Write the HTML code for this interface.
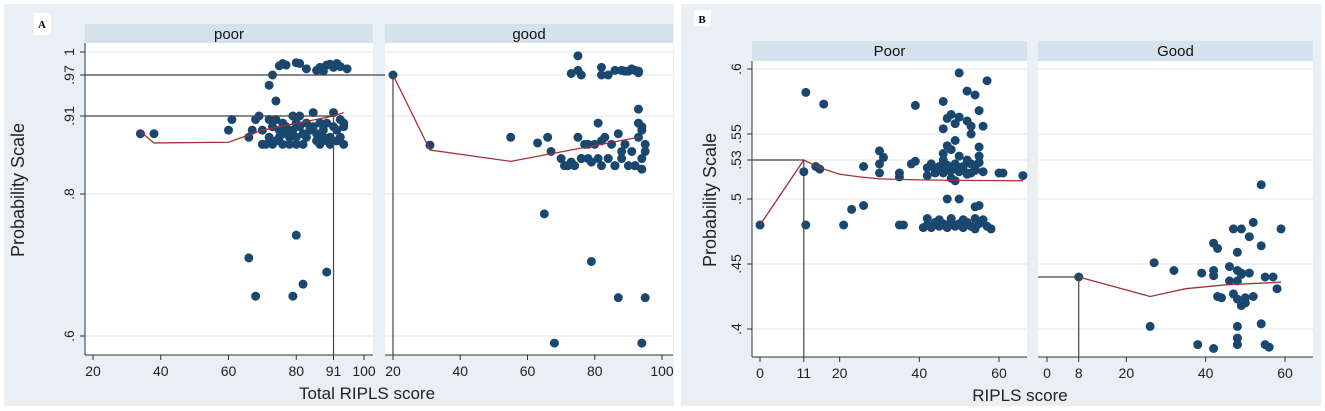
<!DOCTYPE html>
<html><head><meta charset="utf-8">
<style>
html,body{margin:0;padding:0;background:#fff;width:1325px;height:411px;overflow:hidden;font-family:"Liberation Sans",sans-serif;}
svg{display:block}
</style></head>
<body>
<svg id="chart" width="1325" height="411" xmlns="http://www.w3.org/2000/svg">
<rect x="4" y="4" width="670" height="402" fill="#e9eff3"/>
<rect x="681" y="4" width="640" height="402" fill="#e9eff3"/>
<rect x="34" y="13" width="17" height="22" fill="#fff"/>
<text x="42" y="28" font-family="Liberation Serif" font-weight="bold" font-size="11" text-anchor="middle">A</text>
<rect x="694" y="10" width="17" height="16" fill="#fff"/>
<text x="702" y="23" font-family="Liberation Serif" font-weight="bold" font-size="11" text-anchor="middle">B</text>
<text transform="translate(24,190) rotate(-90)" font-size="18" text-anchor="middle" fill="#222">Probability Scale</text>
<text x="367" y="399" font-size="17" text-anchor="middle" fill="#222">Total RIPLS score</text>
<text transform="translate(716,200) rotate(-90)" font-size="18" text-anchor="middle" fill="#222">Probability Scale</text>
<text x="1020" y="401" font-size="17" text-anchor="middle" fill="#222">RIPLS score</text>
</svg>
<script>
// ---- Panel A data ----
const aYTicks = [1, .97, .91, .8, .6];
const aYTickLabels = ["1", ".97", ".91", ".8", ".6"];
const aXTicks = [20, 40, 60, 80, 91, 100];
const aPoorX = [34,38,60,61,66,67,68,69,70,70,71,72,72,73,73,74,74,75,75,76,76,77,77,78,78,79,79,80,80,80,81,81,82,82,83,83,84,85,85,86,86,87,87,88,88,89,89,90,90,91,91,92,92,93,93,94,94,94,75,76,77,80,81,83,86,87,88,89,90,91,92,93,95,73,72,74,80,66,68,79,82,89];
const aPoorY = [.885,.885,.89,.905,.88,.89,.905,.91,.87,.89,.87,.905,.88,.87,.895,.905,.875,.88,.89,.87,.9,.885,.895,.87,.88,.91,.89,.9,.88,.87,.895,.91,.885,.87,.9,.88,.89,.915,.895,.885,.875,.9,.87,.89,.88,.875,.9,.88,.87,.895,.915,.89,.875,.905,.88,.895,.87,.9,.982,.985,.983,.986,.985,.978,.976,.98,.975,.983,.984,.98,.985,.981,.978,.97,.955,.932,.742,.71,.656,.656,.673,.69];
const aPoorFitX = [34,38,60,70,91,94];
const aPoorFitY = [.888,.872,.873,.89,.91,.915];
const aGoodX = [20,31,55,63,66,67,65,79,87,95,68,94,75,73,75,76,82,82,84,86,88,89,90,91,92,93,93,81,93,93,94,94,70,71,72,73,75,76,77,78,79,80,81,82,83,84,85,86,87,88,89,90,91,92,93,94,95,95,72,74,76,78,82,84,86,88,92,94];
const aGoodY = [.97,.869,.88,.872,.88,.86,.772,.705,.654,.654,.59,.59,.995,.972,.976,.97,.98,.97,.97,.976,.976,.975,.975,.978,.976,.975,.973,.9,.92,.9,.895,.89,.85,.84,.84,.845,.88,.85,.87,.85,.845,.87,.85,.875,.88,.85,.87,.84,.885,.85,.87,.84,.86,.84,.88,.85,.87,.86,.84,.84,.85,.87,.84,.85,.84,.86,.84,.835];
const aGoodFitX = [20,31,55,93];
const aGoodFitY = [.97,.862,.846,.88];
// ---- Panel B data ----
const bYTicks = [.6, .55, .53, .5, .45, .4];
const bYTickLabels = [".6", ".55", ".53", ".5", ".45", ".4"];
const bPoorXTicks = [0, 11, 20, 40, 60];
const bGoodXTicks = [0, 8, 20, 40, 60];
const bPoorX = [0,11,11.5,11.5,16,14,15,21,23,26,26,30,30,30,31,35,35,35,36,39,38,39,50,57,52,54,46,55,47,48,50,52,49,53,56,46,53,47,48,49,55,46,50,52,55,47,50,54,55,60,61,66,42,43,44,45,46,47,48,49,50,51,52,53,54,55,56,42,44,46,48,50,52,54,42,43,44,45,46,47,48,49,50,51,52,53,54,55,56,57,58,42,45,48,51,54,41,47,49,53];
const bPoorY = [.48,.521,.582,.48,.573,.525,.523,.48,.492,.495,.525,.537,.527,.52,.532,.52,.517,.48,.48,.572,.527,.529,.597,.591,.583,.58,.575,.568,.562,.565,.563,.56,.558,.556,.556,.554,.55,.541,.538,.545,.54,.535,.533,.53,.533,.5,.5,.494,.495,.52,.52,.518,.524,.527,.522,.525,.52,.526,.522,.527,.521,.525,.52,.527,.523,.528,.521,.518,.52,.53,.516,.524,.519,.522,.48,.478,.482,.479,.481,.478,.483,.479,.481,.478,.482,.479,.477,.481,.484,.479,.477,.485,.484,.485,.484,.485,.478,.522,.514,.52];
const bPoorFitX = [0,11,13,15,20,25,30,40,50,66];
const bPoorFitY = [.48,.53,.527,.524,.519,.517,.5155,.5147,.5143,.514];
const bGoodX = [8,54,52,47,49,59,51,42,43,54,48,27,32,39,42,42,46,48,49,51,55,57,46,48,49,58,43,44,47,48,50,50,49,52,26,48,54,48,38,48,42,55,56];
const bGoodY = [.44,.511,.482,.477,.477,.477,.471,.466,.462,.464,.459,.451,.445,.443,.445,.441,.448,.445,.443,.443,.44,.44,.437,.437,.442,.431,.425,.424,.427,.423,.424,.42,.418,.425,.402,.402,.404,.393,.388,.388,.385,.388,.386];
const bGoodFitX = [8,26,35,45,59];
const bGoodFitY = [.44,.425,.431,.434,.436];

const NS = "http://www.w3.org/2000/svg";
const svg = document.getElementById("chart");
function mk(tag, attrs, parent){ const e=document.createElementNS(NS,tag); for(const k in attrs) e.setAttribute(k,attrs[k]); (parent||svg).appendChild(e); return e; }
function linScale(d0,d1,r0,r1){ return v=>r0+(v-d0)/(d1-d0)*(r1-r0); }
function pieceScale(vals,pos){ return v=>{ for(let i=0;i<vals.length-1;i++){ const a=vals[i],b=vals[i+1]; const lo=Math.min(a,b),hi=Math.max(a,b); if(v>=lo&&v<=hi||i===vals.length-2||(i===0&&(a>b?v>a:v<a))){ return pos[i]+(v-a)/(b-a)*(pos[i+1]-pos[i]); } } return pos[0]; }; }

function panel(o){
  const g = mk("g",{});
  
  
  const hd = mk("rect",{x:o.x0,y:o.hy,width:o.x1-o.x0,height:o.top-o.hy,fill:"#d6e2eb"},g);
  
  
  const ht = mk("text",{x:(o.x0+o.x1)/2,y:o.hy+15,"font-size":15,"text-anchor":"middle",fill:"#111"},g);
  ht.textContent = o.title;
  
  
  const pa = mk("rect",{x:o.x0,y:o.top,width:o.x1-o.x0,height:o.bot-o.top,fill:"#fff"},g);
  
  
  o.yTicks.forEach((t,i)=>{
    const y=o.ys(t);
    const gl=mk("line",{x1:o.x0,x2:o.x1,y1:y,y2:y,stroke:"#eaeff2","stroke-width":1.5},g);
    
    
    if(o.yLabels){
      const tk=mk("line",{x1:o.x0-5,x2:o.x0,y1:y,y2:y,stroke:"#333"},g);
      
      
      const tl=mk("text",{transform:`translate(${o.x0-11},${y}) rotate(-90)`,"font-size":14,"text-anchor":"middle",fill:"#222"},g);
      tl.textContent=o.yLabels[i];
      
      
    }
  });
  o.refs.forEach(r=>{
    const l=mk("polyline",{points:r.map(p=>p.join(",")).join(" "),fill:"none",stroke:"#444","stroke-width":1.2},svg);
    
    
  });
  o.px.forEach((v,i)=>{
    const c=mk("circle",{cx:o.xs(v),cy:o.ys(o.py[i]),r:4.5,fill:"#1a476f"},g);
    
    
  });
  const fl=mk("polyline",{points:o.fx.map((v,i)=>o.xs(v)+","+o.ys(o.fy[i])).join(" "),fill:"none",stroke:"#a33135","stroke-width":1.3},g);
  
  
  const ax=mk("line",{x1:o.x0,x2:o.x1,y1:o.bot,y2:o.bot,stroke:"#333"},g);
  
  
  if(o.yLabels){
    const ay=mk("line",{x1:o.x0,x2:o.x0,y1:o.top,y2:o.bot,stroke:"#333"},g);
    
    
  }
  o.xTicks.forEach(t=>{
    const x=o.xs(t);
    const tk=mk("line",{x1:x,x2:x,y1:o.bot,y2:o.bot+5,stroke:"#333"},g);
    
    
    const tl=mk("text",{x:x,y:o.bot+21,"font-size":14,"text-anchor":"middle",fill:"#222"},g);
    tl.textContent=t;
    
    
  });
}

const aYs = pieceScale(aYTicks,[52,75,116,194,336]);
const aPoorXs = linScale(20,100,93,364);
const aGoodXs = linScale(20,100,393,662);
const bYs = linScale(.5,.6,199,69);
const bPoorXs = linScale(0,60,760,999);
const bGoodXs = linScale(0,60,1047,1285);

panel({name:"panel-a-poor",title:"poor",x0:85,x1:373,hy:24,top:43,bot:355,xs:aPoorXs,ys:aYs,yTicks:aYTicks,yLabels:aYTickLabels,xTicks:aXTicks,
  px:aPoorX,py:aPoorY,fx:aPoorFitX,fy:aPoorFitY,
  refs:[[[85,aYs(.91)],[aPoorXs(91),aYs(.91)],[aPoorXs(91),355]],[[85,aYs(.97)],[aGoodXs(20),aYs(.97)]]]});
panel({name:"panel-a-good",title:"good",x0:385,x1:673,hy:24,top:43,bot:355,xs:aGoodXs,ys:aYs,yTicks:aYTicks,yLabels:null,xTicks:[20,40,60,80,100],
  px:aGoodX,py:aGoodY,fx:aGoodFitX,fy:aGoodFitY,
  refs:[[[aGoodXs(20),aYs(.97)],[aGoodXs(20),355]]]});
panel({name:"panel-b-poor",title:"Poor",x0:752,x1:1027,hy:41,top:61,bot:357,xs:bPoorXs,ys:bYs,yTicks:bYTicks,yLabels:bYTickLabels,xTicks:bPoorXTicks,
  px:bPoorX,py:bPoorY,fx:bPoorFitX,fy:bPoorFitY,
  refs:[[[752,bYs(.53)],[bPoorXs(11),bYs(.53)],[bPoorXs(11),357]]]});
panel({name:"panel-b-good",title:"Good",x0:1038,x1:1313,hy:41,top:61,bot:357,xs:bGoodXs,ys:bYs,yTicks:bYTicks,yLabels:null,xTicks:bGoodXTicks,
  px:bGoodX,py:bGoodY,fx:bGoodFitX,fy:bGoodFitY,
  refs:[[[1038,bYs(.44)],[bGoodXs(8),bYs(.44)],[bGoodXs(8),357]]]});
</script>
</body></html>
